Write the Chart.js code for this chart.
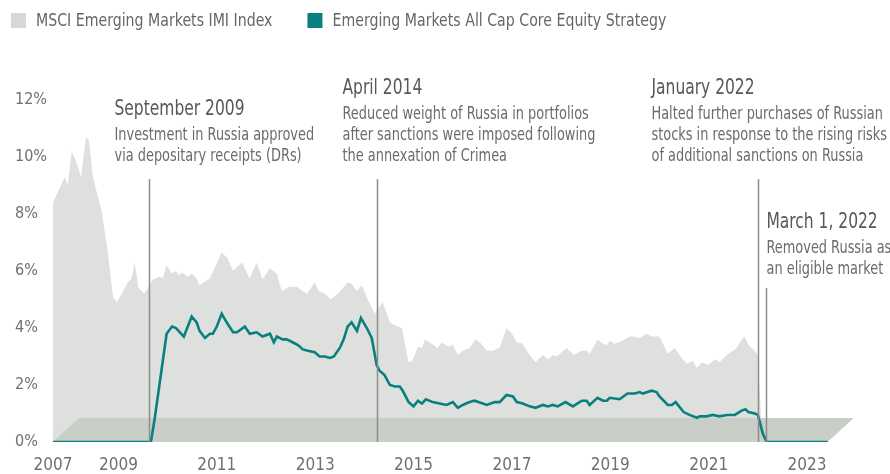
<!DOCTYPE html>
<html>
<head>
<meta charset="utf-8">
<script src="https://cdn.jsdelivr.net/npm/chart.js@4.4.1/dist/chart.umd.min.js"></script>
<style>
  body { margin: 0; background: #fff; }
  #wrap { position: relative; width: 890px; height: 474px; }
</style>
</head>
<body>
<div id="wrap">
  <canvas id="chart"></canvas>
</div>
<script>
// weights in %, dates as decimal years
const msciDates = [2007.67, 2007.91, 2007.97, 2008.05, 2008.15, 2008.24, 2008.34, 2008.40, 2008.48, 2008.66,
  2008.78, 2008.89, 2008.97, 2009.13, 2009.19, 2009.27, 2009.33, 2009.41, 2009.52, 2009.62,
  2009.70, 2009.84, 2009.90, 2009.98, 2010.09, 2010.17, 2010.23, 2010.29, 2010.41, 2010.49,
  2010.59, 2010.65, 2010.86, 2011.10, 2011.22, 2011.33, 2011.51, 2011.67, 2011.81, 2011.93,
  2012.08, 2012.22, 2012.32, 2012.48, 2012.63, 2012.83, 2012.99, 2013.07, 2013.20, 2013.32,
  2013.46, 2013.66, 2013.74, 2013.85, 2013.95, 2014.07, 2014.21, 2014.37, 2014.52, 2014.62,
  2014.76, 2014.90, 2014.98, 2015.09, 2015.17, 2015.23, 2015.37, 2015.49, 2015.57, 2015.70,
  2015.80, 2015.90, 2016.00, 2016.14, 2016.26, 2016.35, 2016.49, 2016.61, 2016.75, 2016.89,
  2017.00, 2017.10, 2017.22, 2017.36, 2017.48, 2017.63, 2017.73, 2017.83, 2017.91, 2018.01,
  2018.11, 2018.26, 2018.42, 2018.52, 2018.58, 2018.74, 2018.85, 2018.93, 2018.99, 2019.09,
  2019.19, 2019.39, 2019.50, 2019.60, 2019.74, 2019.84, 2020.00, 2020.17, 2020.31, 2020.47,
  2020.57, 2020.67, 2020.76, 2020.86, 2020.98, 2021.14, 2021.22, 2021.37, 2021.57, 2021.67,
  2021.73, 2021.81, 2021.94, 2022.00, 2022.09, 2023.42];
const msciValues = [8.4, 9.3, 9.0, 10.2, 9.8, 9.3, 10.7, 10.6, 9.3, 8.1,
  6.7, 5.1, 4.9, 5.4, 5.6, 5.75, 6.3, 5.4, 5.2, 5.45,
  5.7, 5.8, 5.75, 6.2, 5.9, 6.0, 5.85, 5.95, 5.8, 5.9,
  5.75, 5.5, 5.75, 6.65, 6.45, 6.0, 6.3, 5.75, 6.3, 5.7,
  6.1, 5.9, 5.3, 5.45, 5.45, 5.2, 5.6, 5.3, 5.2, 5.0,
  5.2, 5.6, 5.55, 5.3, 5.5, 5.0, 4.5, 4.9, 4.2, 4.1,
  4.0, 2.8, 2.85, 3.35, 3.3, 3.6, 3.45, 3.3, 3.5, 3.35,
  3.4, 3.05, 3.2, 3.3, 3.6, 3.5, 3.2, 3.2, 3.3, 4.0,
  3.8, 3.5, 3.45, 3.05, 2.8, 3.05, 2.9, 3.05, 3.0, 3.15,
  3.3, 3.05, 3.2, 3.2, 3.1, 3.6, 3.45, 3.4, 3.55, 3.45,
  3.5, 3.7, 3.7, 3.65, 3.8, 3.7, 3.7, 3.1, 3.3, 2.9,
  2.75, 2.85, 2.6, 2.8, 2.7, 2.9, 2.8, 3.05, 3.3, 3.6,
  3.7, 3.4, 3.2, 3.05, 0, 0];

const stratDates = [2007.67, 2009.66, 2009.74, 2009.98, 2010.09, 2010.17, 2010.33, 2010.49, 2010.59, 2010.65,
  2010.76, 2010.86, 2010.92, 2011.00, 2011.10, 2011.20, 2011.33, 2011.41, 2011.57, 2011.67,
  2011.81, 2011.93, 2012.08, 2012.16, 2012.22, 2012.34, 2012.42, 2012.54, 2012.65, 2012.75,
  2012.85, 2012.99, 2013.09, 2013.20, 2013.30, 2013.38, 2013.50, 2013.58, 2013.66, 2013.74,
  2013.85, 2013.93, 2014.05, 2014.15, 2014.25, 2014.31, 2014.41, 2014.52, 2014.62, 2014.72,
  2014.78, 2014.90, 2015.00, 2015.09, 2015.17, 2015.25, 2015.39, 2015.53, 2015.67, 2015.80,
  2015.90, 2016.00, 2016.14, 2016.24, 2016.49, 2016.65, 2016.75, 2016.89, 2017.02, 2017.10,
  2017.22, 2017.36, 2017.48, 2017.63, 2017.73, 2017.83, 2017.93, 2018.09, 2018.24, 2018.42,
  2018.52, 2018.58, 2018.74, 2018.85, 2018.93, 2018.99, 2019.19, 2019.35, 2019.50, 2019.60,
  2019.66, 2019.84, 2019.94, 2020.00, 2020.17, 2020.25, 2020.33, 2020.49, 2020.61, 2020.76,
  2020.82, 2020.96, 2021.08, 2021.22, 2021.37, 2021.53, 2021.67, 2021.75, 2021.81, 2021.94,
  2022.00, 2022.10, 2022.18, 2023.42];
const stratValues = [0, 0, 0.85, 3.8, 4.05, 4.0, 3.7, 4.4, 4.2, 3.9,
  3.65, 3.8, 3.8, 4.05, 4.5, 4.2, 3.85, 3.85, 4.05, 3.8,
  3.85, 3.7, 3.8, 3.5, 3.7, 3.6, 3.6, 3.5, 3.4, 3.25,
  3.2, 3.15, 3.0, 3.0, 2.95, 3.0, 3.3, 3.6, 4.05, 4.2,
  3.9, 4.35, 4.0, 3.65, 2.7, 2.5, 2.35, 2.0, 1.95, 1.95,
  1.8, 1.4, 1.25, 1.45, 1.35, 1.5, 1.4, 1.35, 1.3, 1.4,
  1.2, 1.3, 1.4, 1.45, 1.3, 1.4, 1.4, 1.65, 1.6, 1.4,
  1.35, 1.25, 1.2, 1.3, 1.25, 1.3, 1.25, 1.4, 1.25, 1.45,
  1.45, 1.3, 1.55, 1.45, 1.45, 1.55, 1.5, 1.7, 1.7, 1.75,
  1.7, 1.8, 1.75, 1.6, 1.3, 1.3, 1.4, 1.05, 0.95, 0.85,
  0.9, 0.9, 0.95, 0.9, 0.95, 0.95, 1.1, 1.15, 1.05, 1.0,
  0.95, 0.3, 0, 0];

const seriesNames = ['MSCI Emerging Markets IMI Index', 'Emerging Markets All Cap Core Equity Strategy'];
const yTicks = [0, 2, 4, 6, 8, 10, 12];
const xTicks = [2007.67, 2009, 2011, 2013, 2015, 2017, 2019, 2021, 2023];
const xTickLabels = ['2007', '2009', '2011', '2013', '2015', '2017', '2019', '2021', '2023'];

const eventDates = [2009.62, 2014.25, 2022.0, 2022.16];
const eventTitles = ['September 2009', 'April 2014', 'January 2022', 'March 1, 2022'];
const eventNotes = [
  ['Investment in Russia approved', 'via depositary receipts (DRs)'],
  ['Reduced weight of Russia in portfolios', 'after sanctions were imposed following', 'the annexation of Crimea'],
  ['Halted further purchases of Russian', 'stocks in response to the rising risks', 'of additional sanctions on Russia'],
  ['Removed Russia as', 'an eligible market'],
];

// label placement (pixels)
const eventLayout = [
  { dx: -35, titleY: 110, lineTop: 179 },
  { dx: -35, titleY: 89, lineTop: 179 },
  { dx: -107, titleY: 89, lineTop: 179 },
  { dx: 0, titleY: 223, lineTop: 288 },
];

const FONT = '"DejaVu Sans Condensed", "Liberation Sans Narrow", sans-serif';
const SQUEEZE = 0.82; // the source uses a condensed face, squeeze DejaVu a bit more
const AREA = '#dde0dd';
const FLOOR = '#c9cec8';
const TEAL = '#0a7f80';
const LEGEND_BOX = ['#d5d9d5', TEAL];

function squeezedText(ctx, str, x, y, k) {
  ctx.save();
  ctx.translate(x, y);
  ctx.scale(k, 1);
  ctx.fillText(str, 0, 0);
  ctx.restore();
  return ctx.measureText(str).width * k;
}

const floorPlugin = {
  id: 'floor',
  beforeDatasetDraw(chart, args) {
    if (args.index !== 1) return;
    const { ctx, scales: { x, y } } = chart;
    const x0 = x.getPixelForValue(stratDates[0]);
    const x1 = x.getPixelForValue(stratDates[stratDates.length - 1]);
    const y0 = y.getPixelForValue(0);
    ctx.save();
    ctx.fillStyle = FLOOR;
    ctx.beginPath();
    ctx.moveTo(x0, y0);
    ctx.lineTo(x1, y0);
    ctx.lineTo(x1 + 26, y0 - 24);
    ctx.lineTo(x0 + 26, y0 - 24);
    ctx.closePath();
    ctx.fill();
    ctx.restore();
  }
};

const eventPlugin = {
  id: 'events',
  afterDatasetsDraw(chart) {
    const { ctx, scales: { x, y } } = chart;
    const base = y.getPixelForValue(0);
    ctx.save();
    eventDates.forEach((d, i) => {
      const lx = Math.round(x.getPixelForValue(d)) + 0.5;
      const lay = eventLayout[i];
      ctx.strokeStyle = '#8d8d8d';
      ctx.lineWidth = 1.5;
      ctx.beginPath();
      ctx.moveTo(lx, lay.lineTop);
      ctx.lineTo(lx, base);
      ctx.stroke();

      const tx = lx + lay.dx;
      ctx.textAlign = 'left';
      ctx.textBaseline = 'middle';
      ctx.fillStyle = '#585858';
      ctx.font = '21px ' + FONT;
      squeezedText(ctx, eventTitles[i], tx, lay.titleY, SQUEEZE);
      ctx.fillStyle = '#6b6b6b';
      ctx.font = '17.5px ' + FONT;
      eventNotes[i].forEach((line, j) => {
        squeezedText(ctx, line, tx, lay.titleY + 25 + j * 21, SQUEEZE);
      });
    });
    ctx.restore();
  }
};

const legendPlugin = {
  id: 'topLegend',
  afterDraw(chart) {
    const { ctx } = chart;
    ctx.save();
    ctx.font = '18.5px ' + FONT;
    ctx.textAlign = 'left';
    ctx.textBaseline = 'middle';
    let lx = 11;
    chart.data.datasets.forEach((ds, i) => {
      ctx.fillStyle = LEGEND_BOX[i];
      ctx.fillRect(lx, 13, 15, 15);
      ctx.fillStyle = '#666';
      const w = squeezedText(ctx, ds.label, lx + 25, 21, 0.85);
      lx += 25 + w + 35;
    });
    ctx.restore();
  }
};

new Chart(document.getElementById('chart'), {
  type: 'line',
  data: {
    datasets: [
      {
        label: seriesNames[0],
        data: msciDates.map((d, i) => ({ x: d, y: msciValues[i] })),
        borderWidth: 0,
        backgroundColor: AREA,
        fill: 'origin',
        pointRadius: 0,
        tension: 0,
        order: 2,
      },
      {
        label: seriesNames[1],
        data: stratDates.map((d, i) => ({ x: d, y: stratValues[i] })),
        borderColor: TEAL,
        borderWidth: 2.6,
        fill: false,
        pointRadius: 0,
        tension: 0,
        order: 1,
      },
    ],
  },
  options: {
    responsive: true, maintainAspectRatio: false, animation: false,
    layout: { padding: { top: 100, left: 15, right: 20, bottom: 0 } },
    plugins: { legend: { display: false }, tooltip: { enabled: false } },
    scales: {
      x: {
        type: 'linear', min: 2007.67, max: 2024.28,
        grid: { display: false, drawTicks: false }, border: { display: false },
        afterBuildTicks: s => { s.ticks = xTicks.map(v => ({ value: v })); },
        afterFit: s => { s.height = 32; },
        ticks: {
          padding: 13, color: '#707070', font: { family: FONT, size: 17 }, maxRotation: 0, autoSkip: false,
          callback: (v, i) => xTickLabels[i],
        },
      },
      y: {
        min: 0, max: 12,
        grid: { display: false, drawTicks: false }, border: { display: false },
        afterBuildTicks: s => { s.ticks = yTicks.map(v => ({ value: v })); },
        afterFit: s => { s.width = 38; },
        ticks: {
          crossAlign: 'far', color: '#707070', font: { family: FONT, size: 16 },
          callback: v => v + '%',
        },
      },
    },
  },
  plugins: [floorPlugin, eventPlugin, legendPlugin],
});
</script>
</body>
</html>
